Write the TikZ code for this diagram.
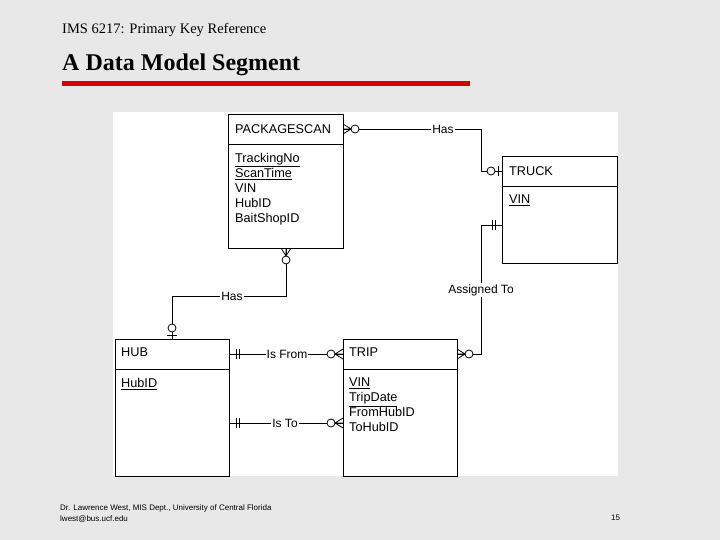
\documentclass[tikz,border=0pt]{standalone}
\usepackage{fontspec}
\setmainfont{Liberation Serif}
\newfontfamily\dia{Liberation Sans}
\begin{document}
\begin{tikzpicture}[x=1pt,y=-1pt,
 lbl/.style={fill=white,inner sep=1pt,font=\dia\fontsize{12}{13}\selectfont},
 ln/.style={line width=0.8pt},
 crowO/.pic={\draw[ln] (8,0)--(0,5) (8,0)--(0,-5) (8,0)--(0,0); \draw[ln,fill=white] (12,0) circle (4);},
 oneO/.pic={\draw[ln] (4,5)--(4,-5); \draw[ln,fill=white] (11,0) circle (4);},
 twobar/.pic={\draw[ln] (7,5)--(7,-5) (10,5)--(10,-5);},
 txt/.style={font=\dia\fontsize{12.7}{15}\selectfont,anchor=north west,align=left,inner sep=0pt}]
\fill[gray!18] (0,0) rectangle (720,540);
\useasboundingbox (0,0) rectangle (720,540);
\fill[white] (113,112) rectangle (618,476);
\node[anchor=west,inner sep=0pt,font=\fontsize{14.5}{16}\selectfont] (t1) at (62,30) {IMS 6217: Primary Key Reference};
\node[anchor=west,inner sep=0pt,font=\bfseries\fontsize{24}{26}\selectfont] (t2) at (62,65) {A Data Model Segment};
\fill[red!85!black] (62,81) rectangle (470,86);
% entities
\draw[line width=1pt,fill=white] (228,115) rectangle (343,248); \draw[line width=1pt] (228,145)--(343,145);
\draw[line width=1pt,fill=white] (502,157) rectangle (617,263); \draw[line width=1pt] (502,187)--(617,187);
\draw[line width=1pt,fill=white] (115,339) rectangle (229,476); \draw[line width=1pt] (115,369)--(229,369);
\draw[line width=1pt,fill=white] (343,339) rectangle (457,476); \draw[line width=1pt] (343,369)--(457,369);
\node[txt] at (235,124) {PACKAGESCAN};
\node[txt] at (235,153) {\underline{TrackingNo}\\\underline{ScanTime}\\VIN\\HubID\\BaitShopID};
\node[txt] at (509,166) {TRUCK};
\node[txt] at (509,195) {\underline{VIN}};
\node[txt] at (121,348) {HUB};
\node[txt] at (121,378) {\underline{HubID}};
\node[txt] at (349,348) {TRIP};
\node[txt] at (349,378) {\underline{VIN}\\\underline{TripDate}\\FromHubID\\ToHubID};
% connectors
\draw[ln] (343,129)--(481,129)--(481,171)--(502,171);
\node[lbl] (l1) at (443,129) {Has};
\draw[ln] (502,225)--(481,225)--(481,354)--(457,354);
\node[lbl] (l2) at (481,290) {Assigned To};
\draw[ln] (286,248)--(286,296)--(172,296)--(172,339);
\node[lbl] (l3) at (232,296) {Has};
\draw[ln] (229,354)--(343,354);
\node[lbl] (l4) at (287,354) {Is From};
\draw[ln] (229,423)--(343,423);
\node[lbl] (l5) at (285,423) {Is To};
\pic at (343,129) {crowO};
\pic[rotate=180] at (502,171) {oneO};
\pic[rotate=180] at (502,225) {twobar};
\pic at (457,354) {crowO};
\pic[rotate=-90] at (286,248) {crowO};
\pic[rotate=90] at (172,339) {oneO};
\pic at (229,354) {twobar};
\pic at (229,423) {twobar};
\pic[rotate=180] at (343,354) {crowO};
\pic[rotate=180] at (343,423) {crowO};
\node[anchor=west,inner sep=0pt,font=\dia\fontsize{8}{9}\selectfont] (f1) at (60,508) {Dr. Lawrence West, MIS Dept., University of Central Florida};
\node[anchor=west,inner sep=0pt,font=\dia\fontsize{8}{9}\selectfont] (f2) at (60,519) {lwest@bus.ucf.edu};
\node[anchor=west,inner sep=0pt,font=\dia\fontsize{8}{9}\selectfont] (f3) at (611,518) {15};
\end{tikzpicture}
\end{document}
